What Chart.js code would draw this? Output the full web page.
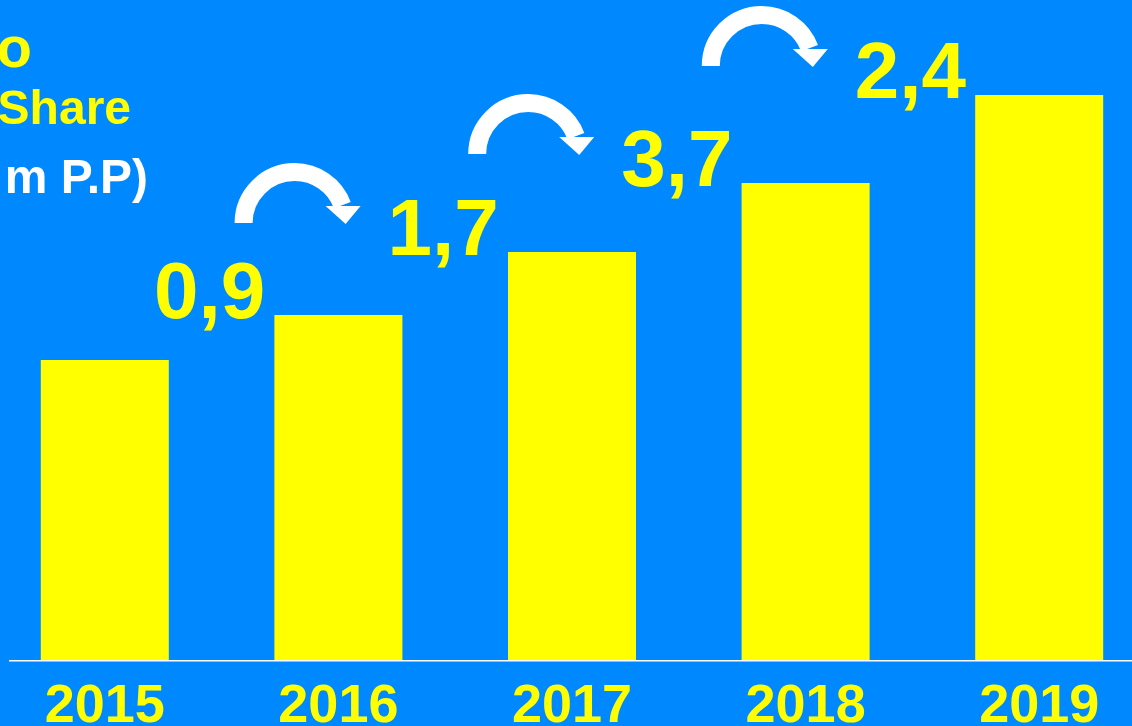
<!DOCTYPE html>
<html>
<head>
<meta charset="utf-8">
<script src="https://cdn.jsdelivr.net/npm/chart.js@4"></script>
<style>
  html, body { margin: 0; padding: 0; width: 1132px; height: 726px; overflow: hidden; background: #0088ff; }
  #wrap { position: absolute; left: -12px; top: 0; }
</style>
</head>
<body>
<div id="wrap"><canvas id="share-chart" width="1168" height="755"></canvas></div>
<script>
const years = ['2015', '2016', '2017', '2018', '2019'];
const shareValues = [30.0, 34.5, 40.8, 47.7, 56.5];
const growthLabels = ['0,9', '1,7', '3,7', '2,4'];
const titleLines = ['o', 'Share', 'm P.P)'];

const YELLOW = '#ffff00';
const FONT = '"Liberation Sans", Arial, sans-serif';

// growth numbers, curved arrows, cut-off title and the base line
const decorations = {
    id: 'decorations',
    afterDatasetsDraw(chart) {
        const ctx = chart.ctx;
        const xs = chart.scales.x, ys = chart.scales.y;
        ctx.save();

        // base line
        ctx.strokeStyle = '#ffffff';
        ctx.lineWidth = 1.5;
        ctx.beginPath();
        ctx.moveTo(21, chart.chartArea.bottom + 0.5);
        ctx.lineTo(chart.width, chart.chartArea.bottom + 0.5);
        ctx.stroke();

        // growth labels
        const pos = growthLabels.map((t, i) => ({
            x: (xs.getPixelForValue(i) + xs.getPixelForValue(i + 1)) / 2 - 12,
            y: ys.getPixelForValue(shareValues[i + 1]) + 3
        }));
        ctx.fillStyle = YELLOW;
        ctx.font = 'bold 80px ' + FONT;
        ctx.textAlign = 'center';
        ctx.textBaseline = 'alphabetic';
        growthLabels.forEach((t, i) => ctx.fillText(t, pos[i].x, pos[i].y));

        // arrows between labels
        ctx.strokeStyle = '#ffffff';
        ctx.fillStyle = '#ffffff';
        for (let i = 0; i < growthLabels.length - 1; i++) {
            const cx = pos[i].x + 85;
            const cy = pos[i + 1].y - 32;
            ctx.lineWidth = 18;
            ctx.beginPath();
            ctx.arc(cx, cy, 51, Math.PI, 2 * Math.PI - 0.36);
            ctx.stroke();
            ctx.beginPath();
            ctx.moveTo(cx + 31, cy - 17);
            ctx.lineTo(cx + 66, cy - 17);
            ctx.lineTo(cx + 51, cy + 1);
            ctx.closePath();
            ctx.fill();
        }

        // cut-off title at the left
        ctx.textAlign = 'right';
        ctx.fillStyle = YELLOW;
        ctx.font = 'bold 58px ' + FONT;
        ctx.fillText(titleLines[0], 44, 67);
        ctx.font = 'bold 48px ' + FONT;
        ctx.fillText(titleLines[1], 143, 124);
        ctx.fillStyle = '#ffffff';
        ctx.font = 'bold 48px ' + FONT;
        ctx.fillText(titleLines[2], 160, 193);

        ctx.restore();
    }
};

const ctx = document.getElementById('share-chart').getContext('2d');

const chart = new Chart(ctx, {
    type: 'bar',
    data: {
        labels: years,
        datasets: [{
            data: shareValues,
            backgroundColor: YELLOW,
            borderWidth: 0,
            barPercentage: 0.548,
            categoryPercentage: 1
        }]
    },
    options: {
        responsive: false,
        animation: false,
        devicePixelRatio: 1,
        layout: { padding: 0 },
        plugins: {
            legend: { display: false },
            tooltip: { enabled: false }
        },
        scales: {
            x: {
                grid: { display: false, drawTicks: false },
                border: { display: false },
                ticks: {
                    color: YELLOW,
                    font: { family: FONT, size: 54, weight: 'bold', lineHeight: 1.2 },
                    padding: 15,
                    maxRotation: 0,
                    autoSkip: false
                }
            },
            y: {
                display: false,
                min: 0,
                max: 66
            }
        }
    },
    plugins: [decorations]
});
</script>
</body>
</html>
